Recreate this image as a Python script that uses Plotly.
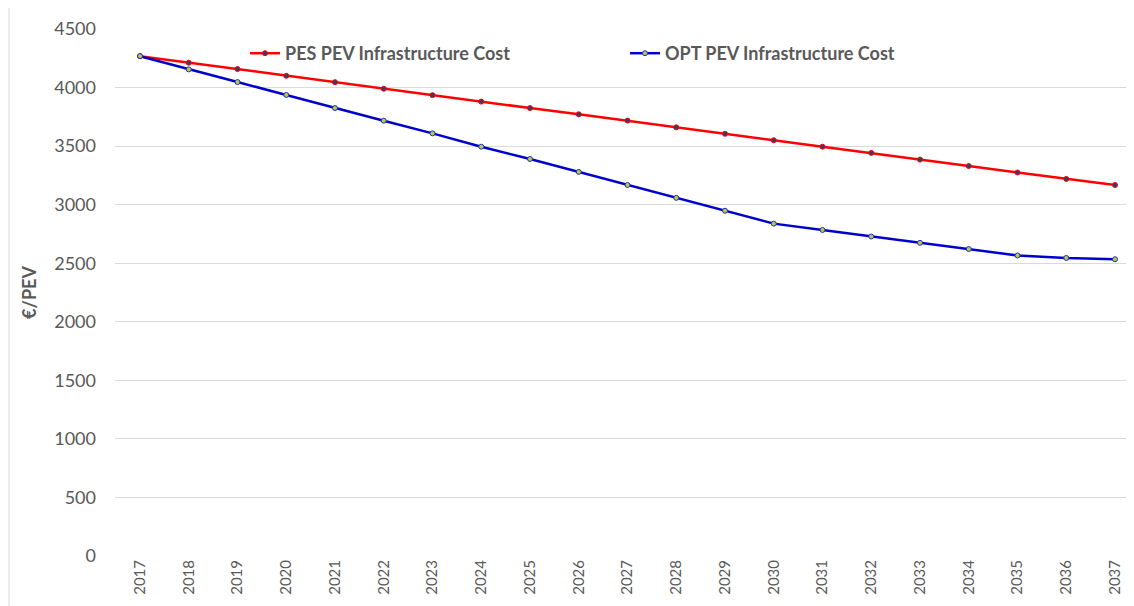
import plotly.graph_objects as go

years = list(range(2017, 2038))
pes = [4268, 4212, 4158, 4100, 4046, 3990, 3935, 3880, 3825, 3772, 3718, 3660, 3605, 3550, 3495, 3442, 3385, 3330, 3275, 3220, 3168]
opt = [4268, 4155, 4047, 3937, 3825, 3717, 3609, 3495, 3390, 3280, 3168, 3058, 2948, 2838, 2784, 2728, 2674, 2621, 2566, 2545, 2534]
y_ticks = [0, 500, 1000, 1500, 2000, 2500, 3000, 3500, 4000, 4500]

OFF = 8  # page body margin
SW, SH = 1134, 606
W, H = SW - OFF, SH - OFF
# screen coordinates of plot area
sL, sT, sB, sR = 115, 29, 556, 1134
L = sL - OFF
T = sT - OFF
B = H - (sB - OFF)
R = W - (sR - OFF)
pw = W - L - R
ph = H - T - B
step = 48.75
x0 = 2017 - (140 - sL) / step
x1 = x0 + pw / step

def px(xs):
    return (xs - sL) / pw

def py(ys):
    return (sB - ys) / ph

fig = go.Figure()
fig.add_trace(go.Scatter(
    x=years, y=pes, mode="lines+markers", name="PES PEV Infrastructure Cost",
    line=dict(color="#ff0000", width=2.5),
    marker=dict(size=5, color="#2f3f6f", line=dict(color="#ff0000", width=1)),
))
fig.add_trace(go.Scatter(
    x=years, y=opt, mode="lines+markers", name="OPT PEV Infrastructure Cost",
    line=dict(color="#0000cc", width=2.5),
    marker=dict(size=5, color="#b8c850", line=dict(color="#2030c0", width=1)),
))

fig.add_shape(type="rect", xref="paper", yref="paper",
              x0=px(9), x1=1.2, y0=-0.3, y1=py(7),
              line=dict(color="#d9d9d9", width=1), fillcolor="rgba(0,0,0,0)", layer="below")

fig.update_layout(
    width=W, height=H,
    margin=dict(l=L, r=R, t=T, b=B),
    paper_bgcolor="white", plot_bgcolor="white",
    font=dict(family="Lato", color="#595959"),
    showlegend=True,
    legend=dict(orientation="h", x=px(245), y=py(35), xanchor="left", yanchor="top",
                font=dict(size=18, family="Lato", color="#595959", weight="bold"),
                entrywidth=335, entrywidthmode="pixels", bgcolor="rgba(0,0,0,0)"),
    xaxis=dict(range=[x0, x1], tickmode="array", tickvals=years, ticktext=[str(y) for y in years],
               tickangle=-90, tickfont=dict(size=15, color="#595959"),
               showgrid=False, zeroline=False, showline=False, ticks=""),
    yaxis=dict(range=[0, 4500], tickmode="array", tickvals=y_ticks,
               tickfont=dict(size=18, color="#595959"),
               showgrid=True, gridcolor="#d9d9d9", gridwidth=1, zeroline=False,
               showline=False, ticks="", ticklabelstandoff=18,
               title=dict(text="€/PEV", font=dict(size=18, color="#595959", weight="bold"), standoff=12)),
)

fig.write_html("out.html")
